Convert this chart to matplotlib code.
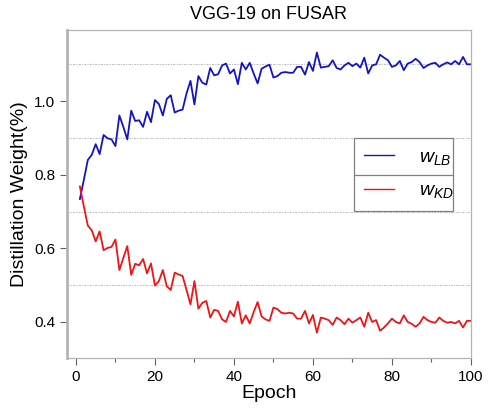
import numpy as np
import matplotlib
matplotlib.use("Agg")
import matplotlib.pyplot as plt
from matplotlib.ticker import MultipleLocator

plt.rcParams['font.family'] = ['Liberation Sans', 'DejaVu Sans']
plt.rcParams['mathtext.fontset'] = 'custom'
plt.rcParams['mathtext.it'] = 'Liberation Sans:italic'
plt.rcParams['mathtext.rm'] = 'Liberation Sans'

epochs = np.arange(1, 101)

# weight of the label (LB) loss
w_lb = [0.734, 0.786, 0.840, 0.854, 0.883, 0.856, 0.908, 0.899, 0.896, 0.878,
        0.961, 0.930, 0.896, 0.974, 0.946, 0.948, 0.930, 0.971, 0.943, 1.003,
        0.992, 0.961, 1.006, 1.016, 0.969, 0.974, 0.977, 1.021, 1.055, 0.991,
        1.068, 1.050, 1.045, 1.090, 1.070, 1.073, 1.097, 1.102, 1.075, 1.086,
        1.046, 1.104, 1.086, 1.104, 1.075, 1.048, 1.088, 1.094, 1.099, 1.064,
        1.068, 1.077, 1.079, 1.077, 1.077, 1.093, 1.093, 1.072, 1.106, 1.082,
        1.132, 1.091, 1.093, 1.095, 1.111, 1.090, 1.086, 1.097, 1.104, 1.095,
        1.102, 1.091, 1.118, 1.075, 1.097, 1.100, 1.126, 1.118, 1.111, 1.093,
        1.097, 1.109, 1.084, 1.102, 1.106, 1.115, 1.106, 1.090, 1.097, 1.102,
        1.104, 1.093, 1.100, 1.105, 1.100, 1.109, 1.100, 1.120, 1.100, 1.100]

# weight of the distillation (KD) loss
w_kd = [0.768, 0.714, 0.662, 0.649, 0.619, 0.646, 0.595, 0.601, 0.604, 0.624,
        0.541, 0.574, 0.606, 0.528, 0.558, 0.554, 0.571, 0.532, 0.559, 0.499,
        0.511, 0.541, 0.497, 0.487, 0.534, 0.529, 0.525, 0.487, 0.448, 0.511,
        0.436, 0.452, 0.457, 0.412, 0.433, 0.430, 0.407, 0.400, 0.430, 0.415,
        0.455, 0.396, 0.418, 0.396, 0.427, 0.454, 0.415, 0.407, 0.403, 0.439,
        0.435, 0.425, 0.423, 0.425, 0.423, 0.409, 0.409, 0.430, 0.396, 0.419,
        0.371, 0.412, 0.409, 0.405, 0.392, 0.412, 0.405, 0.394, 0.409, 0.398,
        0.405, 0.412, 0.387, 0.425, 0.400, 0.405, 0.376, 0.385, 0.396, 0.409,
        0.400, 0.396, 0.418, 0.400, 0.395, 0.387, 0.396, 0.414, 0.405, 0.400,
        0.398, 0.412, 0.403, 0.398, 0.400, 0.396, 0.403, 0.385, 0.403, 0.403]

x_ticks = [0, 20, 40, 60, 80, 100]
y_ticks = [0.4, 0.6, 0.8, 1.0]

fig = plt.figure(figsize=(4.88, 4.12), dpi=100)
ax = fig.add_axes([0.137, 0.131, 0.828, 0.796])

ax.plot(epochs, w_lb, color='#1414c4', lw=1.3, label='$w_{LB}$')
ax.plot(epochs, w_kd, color='#f01414', lw=1.3, label='$w_{KD}$')

ax.set_xlim(-2.3, 100)
ax.set_ylim(0.302, 1.193)
ax.set_xticks(x_ticks)
ax.xaxis.set_minor_locator(MultipleLocator(10))
ax.set_yticks(y_ticks)
ax.yaxis.set_minor_locator(MultipleLocator(0.2, offset=0.1))
ax.set_yticklabels(['0.4', '0.6', '0.8', '1.0'])

# dotted grid only at the in-between values
ax.grid(axis='y', which='minor', color='#c0c0c0', linestyle=(0, (2, 1, 1, 1)), lw=0.8)
ax.tick_params(axis='y', which='minor', length=0)
ax.tick_params(axis='both', which='major', labelsize=11, color='#606060',
               length=5, width=0.8, direction='out')
ax.tick_params(axis='x', which='minor', length=3, width=0.8, color='#606060')

for side in ['top', 'right', 'bottom']:
    ax.spines[side].set_color('#b4b4b4')
    ax.spines[side].set_linewidth(0.9)
ax.spines['left'].set_color('#b4b4b4')
ax.spines['left'].set_linewidth(2)

ax.set_title('VGG-19 on FUSAR', fontsize=13, pad=8)
ax.set_xlabel('Epoch', fontsize=14, labelpad=1)
ax.set_ylabel('Distillation Weight(%)', fontsize=14, labelpad=4)

leg = ax.legend(loc='lower left', bbox_to_anchor=(0.71, 0.448, 0.245, 0.223),
                mode='expand', fancybox=False, edgecolor='#808080',
                framealpha=1, fontsize=14, handlelength=1.5, handletextpad=1.3,
                labelspacing=0.75, borderpad=0.55, borderaxespad=0)
leg.get_frame().set_linewidth(0.9)
for h in leg.get_lines():
    h.set_linewidth(1.0)

# divider between the two legend cells
fig.canvas.draw()
bb = leg.get_window_extent().transformed(ax.transAxes.inverted())
ymid = (bb.y0 + bb.y1) / 2
ax.plot([bb.x0, bb.x1], [ymid, ymid], transform=ax.transAxes,
        color='#808080', lw=0.9, zorder=10, clip_on=False)

fig.savefig('out.png', dpi=100)
